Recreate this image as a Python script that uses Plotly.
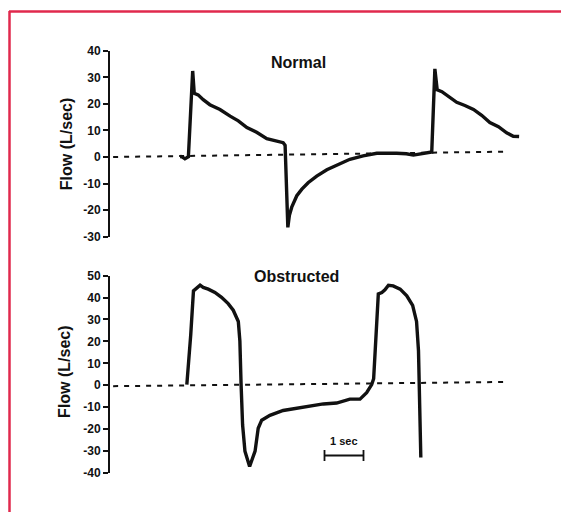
import plotly.graph_objects as go

# ---------------- data (time in seconds, flow in L/sec) ----------------
normal_t = [1.80, 1.84, 1.92, 2.01, 2.12, 2.16, 2.26, 2.39, 2.56, 2.82, 3.08, 3.29,
            3.51, 3.76, 4.02, 4.19, 4.44, 4.49, 4.56, 4.60, 4.66, 4.79, 4.92, 5.08,
            5.30, 5.56, 5.85, 6.15, 6.49, 6.84, 7.35, 7.60, 7.78, 8.12, 8.25, 8.33,
            8.39, 8.51, 8.67, 8.89, 9.10, 9.32, 9.53, 9.74, 9.96, 10.17, 10.34, 10.49]
normal_v = [0.2, 0.1, -0.7, 0.1, 32.4, 24.0, 23.4, 21.6, 19.7, 17.9, 15.4, 13.6,
            11.1, 9.3, 6.9, 6.25, 5.4, 4.4, -26.5, -22.0, -18.9, -14.6, -12.1, -9.7,
            -7.2, -4.8, -2.7, -0.85, 0.4, 1.4, 1.4, 1.2, 0.7, 1.6, 1.9, 33.2,
            25.3, 24.6, 22.8, 20.6, 19.4, 17.9, 15.7, 13.0, 11.4, 9.1, 7.8, 7.7]

obstructed_t = [1.97, 2.01, 2.07, 2.14, 2.22, 2.31, 2.39, 2.52, 2.69, 2.86, 3.03, 3.16,
                3.29, 3.33, 3.36, 3.40, 3.46, 3.58, 3.72, 3.80, 3.89, 4.10, 4.44, 4.79,
                5.13, 5.47, 5.81, 6.15, 6.41, 6.58, 6.71, 6.76, 6.80, 6.88, 6.97, 7.05,
                7.14, 7.26, 7.44, 7.61, 7.76, 7.86, 7.91, 7.93, 7.97]
obstructed_v = [0.3, 8.4, 23.0, 43.0, 44.1, 45.6, 44.6, 43.8, 42.3, 40.1, 37.2, 34.2,
                29.1, 20.2, 1.0, -18.1, -30.0, -37.0, -30.0, -19.6, -15.9, -13.7, -11.5, -10.5,
                -9.3, -8.5, -8.1, -6.3, -6.3, -3.4, 0.3, 3.0, 15.8, 41.6, 42.3, 43.5,
                45.6, 45.3, 43.8, 40.8, 36.4, 29.1, 15.8, -6.3, -32.9]

# zero-flow reference lines (as drawn, slightly tilted in the scan)
normal_zero_t = [0.08, 10.1]
normal_zero_v = [0.0, 2.0]
obstructed_zero_t = [0.08, 10.1]
obstructed_zero_v = [-0.4, 1.5]

# time scale bar: 1 second
scalebar_t = [5.5, 6.5]
scalebar_v = [-32.0, -32.0]
scalebar_label = "1 sec"

normal_ticks = [-30, -20, -10, 0, 10, 20, 30, 40]
normal_ticktext = ["-30", "-20", "-10", "0", "10", "20", "30", "40"]
obstructed_ticks = [-40, -30, -20, -10, 0, 10, 20, 30, 40, 50]
obstructed_ticktext = ["-40", "-30", "-20", "-10", "0", "10", "20", "30", "40", "50"]

panel_titles = ["Normal", "Obstructed"]
y_title = "Flow (L/sec)"

# ---------------- figure ----------------
W, H = 561, 519
BLACK = "#111111"
FONT = "Liberation Sans, Arial, sans-serif"

fig = go.Figure()

fig.add_trace(go.Scatter(x=normal_zero_t, y=normal_zero_v, mode="lines",
                         line=dict(color=BLACK, width=2, dash="5px,6px"),
                         xaxis="x", yaxis="y", hoverinfo="skip"))
fig.add_trace(go.Scatter(x=normal_t, y=normal_v, mode="lines",
                         line=dict(color=BLACK, width=3.4),
                         xaxis="x", yaxis="y"))
fig.add_trace(go.Scatter(x=obstructed_zero_t, y=obstructed_zero_v, mode="lines",
                         line=dict(color=BLACK, width=2, dash="5px,6px"),
                         xaxis="x2", yaxis="y2", hoverinfo="skip"))
fig.add_trace(go.Scatter(x=obstructed_t, y=obstructed_v, mode="lines",
                         line=dict(color=BLACK, width=3.4),
                         xaxis="x2", yaxis="y2"))
fig.add_trace(go.Scatter(x=scalebar_t, y=scalebar_v, mode="lines+markers",
                         line=dict(color=BLACK, width=1.8),
                         marker=dict(symbol="line-ns-open", size=8,
                                     line=dict(color=BLACK, width=1.8)),
                         xaxis="x2", yaxis="y2", hoverinfo="skip"))

x_left = 110 / W
x_right = 530 / W
t_max = (530 - 110) / 39.0

xcommon = dict(visible=False, range=[0, t_max], domain=[x_left, x_right], fixedrange=True)
ycommon = dict(showline=True, linecolor=BLACK, linewidth=2, ticks="outside",
               ticklen=5, tickwidth=1.5, tickcolor=BLACK, showgrid=False,
               zeroline=False, tickfont=dict(family=FONT, size=12, color=BLACK, weight="bold"),
               ticklabelstandoff=0)

fig.update_layout(
    width=W, height=H,
    margin=dict(l=0, r=0, t=0, b=0),
    paper_bgcolor="white", plot_bgcolor="white",
    showlegend=False,
    xaxis=dict(**xcommon, anchor="y"),
    yaxis=dict(**ycommon, range=[-30, 40], domain=[1 - 236 / H, 1 - 45 / H],
               tickvals=normal_ticks, ticktext=normal_ticktext, anchor="x"),
    xaxis2=dict(**xcommon, anchor="y2"),
    yaxis2=dict(**ycommon, range=[-40, 50], domain=[1 - 479 / H, 1 - 276 / H],
                tickvals=obstructed_ticks, ticktext=obstructed_ticktext, anchor="x2"),
)

title_font = dict(family=FONT, size=16, color=BLACK, weight="bold")
ylab_font = dict(family=FONT, size=16, color=BLACK, weight="bold")

fig.add_annotation(text=panel_titles[0], xref="paper", yref="paper",
                   x=298 / W, y=1 - 57 / H, xanchor="center", yanchor="middle",
                   showarrow=False, font=title_font)
fig.add_annotation(text=panel_titles[1], xref="paper", yref="paper",
                   x=296 / W, y=1 - 277 / H, xanchor="center", yanchor="middle",
                   showarrow=False, font=title_font)
fig.add_annotation(text=y_title, xref="paper", yref="paper", textangle=-90,
                   x=66 / W, y=1 - 141 / H, xanchor="center", yanchor="middle",
                   showarrow=False, font=ylab_font)
fig.add_annotation(text=y_title, xref="paper", yref="paper", textangle=-90,
                   x=65 / W, y=1 - 375 / H, xanchor="center", yanchor="middle",
                   showarrow=False, font=ylab_font)
fig.add_annotation(text=scalebar_label, xref="x2", yref="y2",
                   x=(scalebar_t[0] + scalebar_t[1]) / 2, y=scalebar_v[0],
                   yshift=15, showarrow=False,
                   font=dict(family=FONT, size=11, color=BLACK, weight="bold"))

# red frame of the scanned figure (top and left edges)
RED = "#e0294d"
fig.add_shape(type="line", xref="paper", yref="paper", x0=9 / W, x1=1, y0=1 - 4.5 / H, y1=1 - 4.5 / H,
              line=dict(color=RED, width=2.5))
fig.add_shape(type="line", xref="paper", yref="paper", x0=9.5 / W, x1=9.5 / W, y0=0, y1=1 - 4 / H,
              line=dict(color=RED, width=2.5))

fig.write_html("out.html")
